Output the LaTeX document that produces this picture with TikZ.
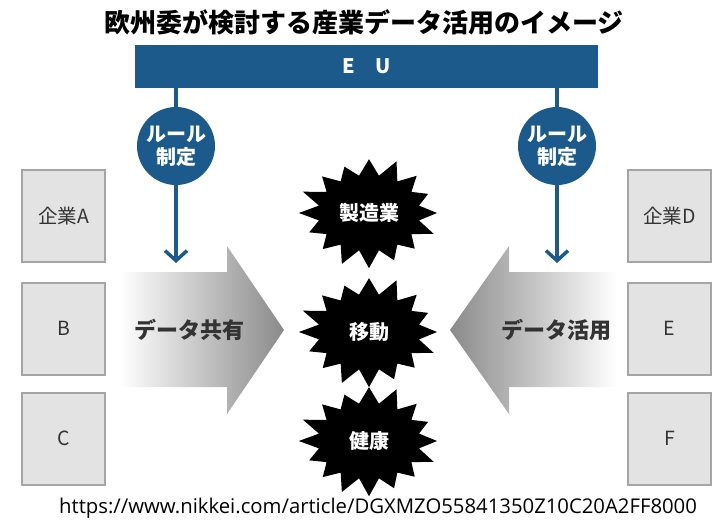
\documentclass[tikz,border=0pt]{standalone}
\usepackage{fontspec}
\setmainfont{Noto Sans CJK JP}
\newfontfamily\urlfont{Open Sans}
\usetikzlibrary{arrows.meta,calc}
\definecolor{eublue}{HTML}{1D5A8C}
\definecolor{boxfill}{HTML}{E3E3E3}
\definecolor{boxline}{HTML}{A5A5A5}
\definecolor{txtgray}{HTML}{333333}
\definecolor{arrgray}{HTML}{8A8A8A}
\newcommand\myburst[1]{%
  \fill[black] ($(#1)+(0:68pt and 53pt)$)
    \foreach \k [evaluate=\k as \rx using {isodd(\k) ? 51 : 68+4*sin(\k*137)},
                 evaluate=\k as \ry using {isodd(\k) ? 38 : 53+3*sin(\k*137)}] in {1,...,31}
      { -- ($(#1)+({\k*11.25}:\rx pt and \ry pt)$) } -- cycle;}
\begin{document}
\begin{tikzpicture}[x=1pt,y=-1pt,
  company/.style={draw=boxline, line width=2pt, fill=boxfill, minimum width=83pt, minimum height=92pt, inner sep=0pt, font=\fontsize{19.5}{19.5}\selectfont, text=txtgray},
  rulecirc/.style={circle, fill=eublue, minimum size=78pt, inner sep=0pt, text=white, font=\fontsize{20}{23}\bfseries\selectfont, align=center},
  bursttext/.style={inner sep=0pt, text=white, font=\fontsize{20}{20}\bfseries\selectfont},
  link/.style={draw=eublue, line width=3.5pt},
  bigarrowtext/.style={text=txtgray, font=\fontsize{22}{22}\bfseries\selectfont}]
\useasboundingbox (0,0) rectangle (724,522);
\node (title) at (364,22) {\fontsize{26}{26}\bfseries\selectfont 欧州委が検討する産業データ活用のイメージ};
\node[fill=eublue, minimum width=463pt, minimum height=43pt, inner sep=0pt, text=white, font=\fontsize{20}{20}\bfseries\selectfont] (eu) at (366.5,66.5) {E\hspace{1em}U};
\node[rulecirc] (lr) at (176,146) {ルール\\制定};
\node[rulecirc] (rr) at (557,146) {ルール\\制定};
% big arrows
\shade[left color=white, right color=arrgray] (120,272) -- (227,272) -- (227,246) -- (284,330) -- (227,414) -- (227,387) -- (120,387) -- cycle;
\shade[left color=arrgray, right color=white] (617,272) -- (509,272) -- (509,246) -- (450,330) -- (509,414) -- (509,387) -- (617,387) -- cycle;
\node[bigarrowtext] (share) at (189,330) {データ共有};
\node[bigarrowtext] (use) at (556,330) {データ活用};
\coordinate (lt) at (176,263);
\coordinate (rt) at (557,263);
\draw[link] (eu.south -| lr) -- (lr.north);
\draw[link] (eu.south -| rr) -- (rr.north);
\draw[link, -{Straight Barb[length=10pt,width=22pt]}] (lr.south) -- (lt);
\draw[link, -{Straight Barb[length=10pt,width=22pt]}] (rr.south) -- (rt);
% companies
\node[company] (a) at (63.5,216) {企業A};
\node[company] (b) at (63.5,328.5) {B};
\node[company] (c) at (63.5,438.5) {C};
\node[company] (d) at (669.5,216) {企業D};
\node[company] (e) at (669.5,328.5) {E};
\node[company] (f) at (669.5,438.5) {F};
% bursts
\coordinate (c1) at (369,213);
\coordinate (c2) at (369,332);
\coordinate (c3) at (369,441);
\myburst{c1}
\myburst{c2}
\myburst{c3}
\node[bursttext] (s1) at (c1) {製造業};
\node[bursttext] (s2) at (c2) {移動};
\node[bursttext] (s3) at (c3) {健康};
\node (url) at (378,508) {\urlfont\fontsize{20.3}{20}\selectfont https://www.nikkei.com/article/DGXMZO55841350Z10C20A2FF8000};
\end{tikzpicture}
\end{document}
